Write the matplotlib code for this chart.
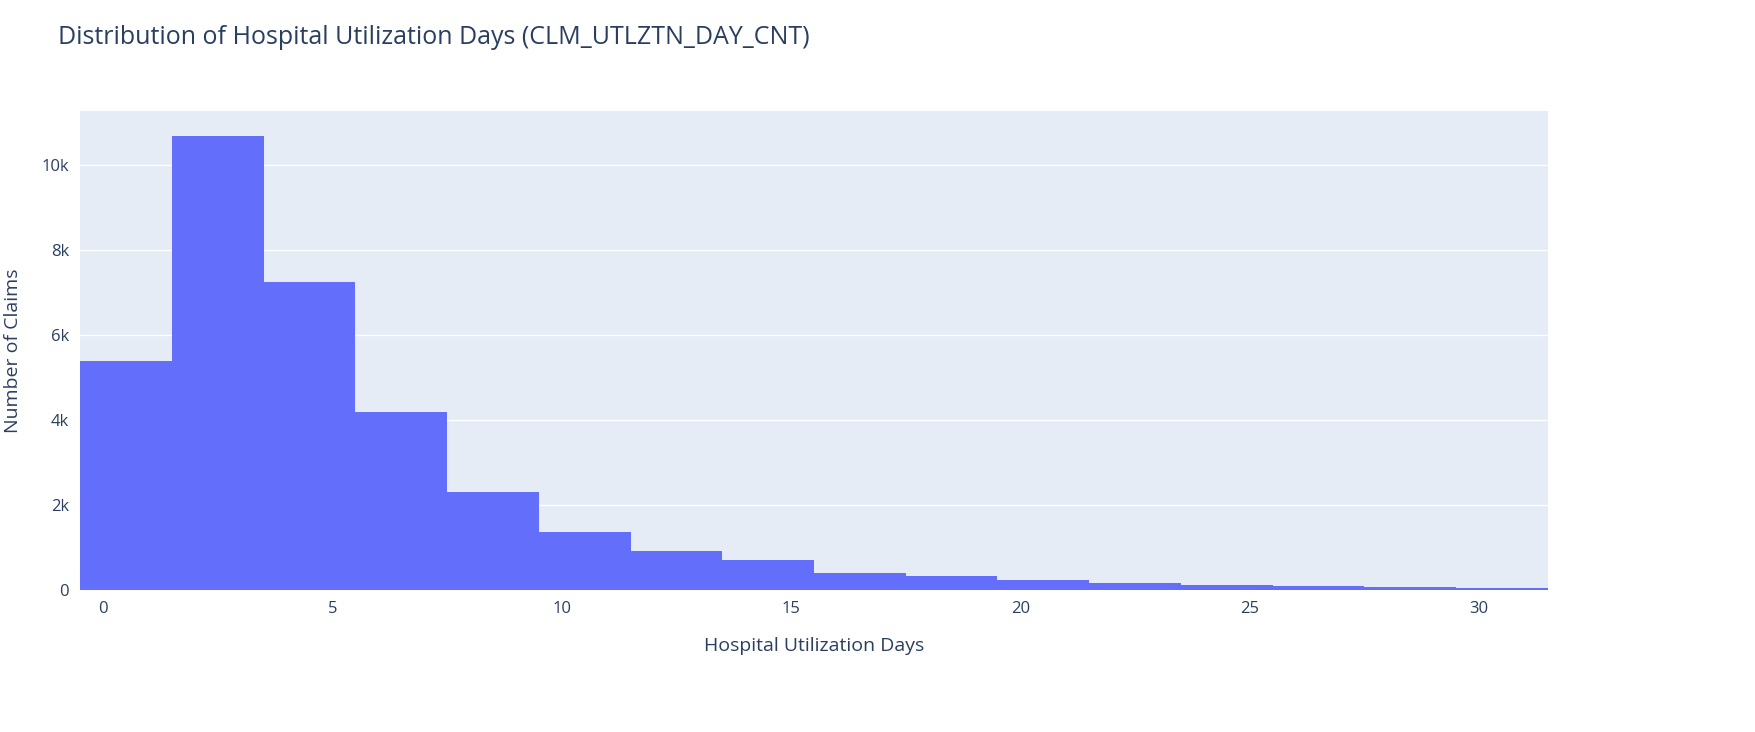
import matplotlib
matplotlib.use("Agg")
import matplotlib.pyplot as plt
from matplotlib.ticker import FuncFormatter

bin_left = [-0.5, 1.5, 3.5, 5.5, 7.5, 9.5, 11.5, 13.5, 15.5, 17.5, 19.5, 21.5, 23.5, 25.5, 27.5, 29.5]
counts = [5390, 10680, 7250, 4190, 2310, 1360, 920, 710, 400, 330, 235, 165, 110, 100, 80, 50]
bin_width = 2
xticks = [0, 5, 10, 15, 20, 25, 30]
yticks = [0, 2000, 4000, 6000, 8000, 10000]

plt.rcParams['font.family'] = ['Open Sans', 'DejaVu Sans']
fig = plt.figure(figsize=(17.56, 7.32), dpi=100)
ax = fig.add_axes([80/1756, 1-590/732, (1548-80)/1756, (590-111)/732])
ax.set_facecolor('#E5ECF6')
ax.bar(bin_left, counts, width=bin_width, align='edge', color='#636EFA', zorder=3, linewidth=0)
ax.set_xlim(-0.5, 31.5)
ax.set_ylim(0, 11270)
ax.set_xticks(xticks)
ax.set_yticks(yticks)
ax.yaxis.set_major_formatter(FuncFormatter(lambda v, p: '0' if v == 0 else f'{int(v/1000)}k'))
ax.grid(axis='y', color='white', linewidth=1, zorder=0)
for s in ax.spines.values():
    s.set_visible(False)
ax.tick_params(length=0, labelsize=12, colors='#2a3f5f', pad=8)
ax.set_xlabel('Hospital Utilization Days', fontsize=14, color='#2a3f5f', labelpad=14)
ax.set_ylabel('Number of Claims', fontsize=14, color='#2a3f5f', labelpad=14)
fig.text(58/1756, 1-37/732, 'Distribution of Hospital Utilization Days (CLM_UTLZTN_DAY_CNT)',
         fontsize=18, color='#2a3f5f', va='center')
fig.savefig('out.png', dpi=100)
